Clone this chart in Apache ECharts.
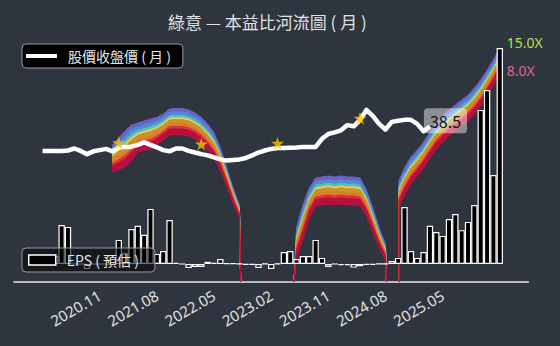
<!DOCTYPE html>
<html>
<head>
<meta charset="utf-8">
<style>html,body{margin:0;padding:0;background:#2f353e;}#c{width:560px;height:346px;}</style>
<script src="https://cdn.jsdelivr.net/npm/echarts@6/dist/echarts.min.js"></script>
</head>
<body>
<div id="c"></div>
<script>
// ---------- data ----------
const months = ['2019.10','2019.11','2019.12',
 '2020.01','2020.02','2020.03','2020.04','2020.05','2020.06','2020.07','2020.08','2020.09','2020.10','2020.11','2020.12',
 '2021.01','2021.02','2021.03','2021.04','2021.05','2021.06','2021.07','2021.08','2021.09','2021.10','2021.11','2021.12',
 '2022.01','2022.02','2022.03','2022.04','2022.05','2022.06','2022.07','2022.08','2022.09','2022.10','2022.11','2022.12',
 '2023.01','2023.02','2023.03','2023.04','2023.05','2023.06','2023.07','2023.08','2023.09','2023.10','2023.11','2023.12',
 '2024.01','2024.02','2024.03','2024.04','2024.05','2024.06','2024.07','2024.08','2024.09','2024.10','2024.11','2024.12',
 '2025.01','2025.02','2025.03','2025.04','2025.05','2025.06','2025.07','2025.08','2025.09','2025.10','2025.11','2025.12',
 '2026.01','2026.02','2026.03','2026.04','2026.05','2026.06'];

const tickMonths = ['2020.02','2020.11','2021.08','2022.05','2023.02','2023.11','2024.08','2025.05','2026.02'];
const labelMonths = ['2020.11','2021.08','2022.05','2023.02','2023.11','2024.08','2025.05'];

const closePrice = [null,null,null,null,
 32.5,32.5,32.5,32.5,32.6,33.1,
 32.5,31.7,32.4,32.7,33.0,32.4,33.35,33.5,33.55,34.0,
 34.6,34.0,33.4,32.7,32.4,33.1,33.1,32.5,32.1,31.7,
 31.4,30.9,30.4,30.1,30.25,30.4,30.75,31.4,32.1,32.6,
 33.0,33.2,33.2,33.3,33.35,33.5,33.5,33.5,35.5,36.7,
 37.1,37.6,38.9,38.6,40.2,42.65,41.2,39.2,37.8,39.7,
 40.0,40.2,40.2,39.2,37.4,38.5,
 null,null,null,null,null,null,null,null,null,null,null,null,null,null,null];

const eps = [null,null,null,null,
 0,0,0.22,1.08,1.03,0,
 0,-0.14,0,0,0,0,0.67,0.3,0.97,1.06,
 0.81,1.53,0.28,0.36,1.22,0.03,0,-0.11,-0.08,-0.08,
 0.06,0.03,0.14,0.02,0.02,0.01,-0.02,-0.02,-0.11,0.01,
 -0.14,0.01,0.33,0.36,0.14,0.22,0.22,0.67,0.17,-0.08,
 0,-0.03,-0.03,-0.1,-0.06,-0.02,-0.02,0.01,0.01,0.08,
 0.17,1.58,0.36,0.17,0.33,1.06,0.89,0.78,1.25,1.39,
 0.94,1.17,1.64,4.28,4.83,2.47,6.0,
 null,null,null,null];

const starMonths = ['2021.02','2022.03','2023.03','2024.04'];
const starPrices = [34.5, 34.2, 34.4, 40.6];

// river: month position (index), 15X boundary and 8X boundary (price)
const riverX = [15,16,17,18,19,20,21,22,23,24,25,26,27,28,29,30,31,32,33,34,35,35.2, null,
 43.6,44,45,46,47,48,49,50,51,52,53,54,55,56,57,58,58.15, null,
 60.15,60.15,61,62,63,64,65,66,67,68,69,70,71,72,73,74,75,76];
const riverHigh = [33.97,35.70,37.44,38.93,39.42,39.92,40.42,40.79,41.66,42.90,43.02,43.02,42.65,41.90,40.79,39.18,36.95,33.23,28.27,23.31,19.09,0, null,
 0,13.39,19.09,23.31,25.79,26.04,26.28,26.04,26.28,26.04,26.04,25.79,22.81,18.35,13.39,9.42,0, null,
 0,25.29,28.27,30.99,32.73,34.71,37.19,39.42,41.16,42.65,43.89,45.13,46.37,48.10,50.09,52.57,55.05,58.02];
const riverLow = [27.27,27.77,28.51,30.0,32.23,32.61,32.98,33.97,35.21,36.45,36.45,36.45,36.20,35.46,34.34,32.73,30.75,27.77,23.80,19.59,15.87,0, null,
 0,6.20,10.41,15.87,18.84,19.09,19.34,19.09,19.34,19.09,19.09,18.84,16.37,12.40,8.68,5.45,0, null,
 0,18.60,21.57,24.30,26.28,28.27,30.75,32.98,34.71,36.20,37.44,38.68,39.92,41.66,43.64,46.12,48.85,51.82];
const riverLabels = ['15.0X','8.0X'];

// ---------- style ----------
const FONT_CJK = "'Noto Sans CJK TC','Noto Sans',sans-serif";
const FONT_LAT = "'Noto Sans','Noto Sans CJK TC',sans-serif";
// bands bottom -> top: relative thickness and colour
const bandWeights = [7,3,3,5,2,3,4,4];
const bandColors = ['#b8103c','#d8343a','#e5782a','#c8922e','#f0d25a','#52c2bc','#5487d6','#6a63c4'];

const totalW = bandWeights.reduce((a,b)=>a+b,0);
const cum = [0];
bandWeights.forEach(w => cum.push(cum[cum.length-1] + w/totalW));

function riverSegments(){
  const segs=[]; let cur=[];
  for(let j=0;j<riverX.length;j++){
    if(riverX[j]===null){ if(cur.length) segs.push(cur); cur=[]; }
    else cur.push({x:riverX[j], hi:riverHigh[j], lo:riverLow[j]});
  }
  if(cur.length) segs.push(cur);
  return segs;
}
const segs = riverSegments();

function renderRiver(params, api){
  const children=[];
  segs.forEach(seg=>{
    const bounds = cum.map(c => seg.map(p => api.coord([p.x, p.lo + (p.hi-p.lo)*c])));
    for(let k=bandColors.length-1;k>=0;k--){
      const pts = bounds[k+1].concat(bounds[k].slice().reverse());
      children.push({type:'polygon', shape:{points:pts},
        style:{fill:bandColors[k], stroke:bandColors[k], lineWidth:1}});
    }
  });
  const lastSeg = segs[segs.length-1];
  const last = lastSeg[lastSeg.length-1];
  const pHi = api.coord([last.x, last.hi]);
  const pLo = api.coord([last.x, last.lo]);
  children.push({type:'text', style:{text:riverLabels[0], x:pHi[0]+7, y:pHi[1]-5,
    fill:'#b3e04a', font:'14px '+FONT_LAT, textAlign:'left', textVerticalAlign:'middle', verticalAlign:'middle'}});
  children.push({type:'text', style:{text:riverLabels[1], x:pLo[0]+7, y:pLo[1]-2,
    fill:'#e4609a', font:'14px '+FONT_LAT, textAlign:'left', textVerticalAlign:'middle', verticalAlign:'middle'}});
  return {type:'group', children};
}

const tickSet = new Set(tickMonths);
const labelSet = new Set(labelMonths);

const chart = echarts.init(document.getElementById('c'), null, {renderer:'svg'});
chart.setOption({
  animation:false,
  backgroundColor:'#2f353e',
  title:{text:'綠意 — 本益比河流圖 ( 月 )', left:168, top:13, padding:0,
    textStyle:{color:'#e2e2e2', fontSize:17, fontWeight:'normal', fontFamily:FONT_CJK}},
  legend:[
    {data:[{name:'股價收盤價 ( 月 )', icon:'rect', itemStyle:{color:'#ffffff', borderWidth:0}}],
     left:22, top:44, selectedMode:false, itemWidth:31, itemHeight:4, z:10,
     backgroundColor:'#000', borderColor:'#9a9a9a', borderWidth:1, borderRadius:4,
     padding:[5,12,5,4],
     textStyle:{color:'#e6e6e6', fontSize:14, fontFamily:FONT_CJK, padding:[0,0,0,6]}},
    {data:[{name:'EPS ( 預估 )', icon:'rect', itemStyle:{color:'#000', borderColor:'#fff', borderWidth:1.5}}],
     left:22, top:248, selectedMode:false, itemWidth:27, itemHeight:10, z:10,
     backgroundColor:'rgba(0,0,0,0.55)', borderColor:'#9a9a9a', borderWidth:1, borderRadius:4,
     padding:[5,16,5,6],
     textStyle:{color:'#e6e6e6', fontSize:14, fontFamily:FONT_CJK, padding:[0,0,0,6]}}
  ],
  grid:{left:14, right:31.65, top:40, bottom:64, containLabel:false},
  xAxis:[
    {type:'category', data:months, boundaryGap:true,
     axisLine:{lineStyle:{color:'#e8e8e8', width:1.5}},
     axisTick:{alignWithLabel:true, length:5, interval:(i,v)=>tickSet.has(v), lineStyle:{color:'#e8e8e8', width:1.5}},
     axisLabel:{rotate:30, interval:(i,v)=>labelSet.has(v), color:'#e0e0e0', fontSize:15, fontFamily:FONT_LAT, margin:12},
     splitLine:{show:false}},
    {type:'value', min:-0.5, max:80.5, show:false}
  ],
  yAxis:[
    {type:'value', min:0, max:60, show:false},
    {type:'value', min:-0.5, max:6.2222, show:false}
  ],
  series:[
    {type:'custom', name:'river', xAxisIndex:1, yAxisIndex:0, data:[[0,0]], renderItem:renderRiver, silent:true, z:1},
    {type:'bar', name:'EPS ( 預估 )', xAxisIndex:0, yAxisIndex:1, data:eps, barCategoryGap:'0%',
     itemStyle:{color:'#000', borderColor:'#fff', borderWidth:1.2}, z:2},
    {type:'line', name:'股價收盤價 ( 月 )', xAxisIndex:0, yAxisIndex:0, data:closePrice, showSymbol:false,
     itemStyle:{color:'#fff'}, lineStyle:{color:'#fff', width:4.5, join:'round'}, z:3,
     endLabel:{show:true, formatter:p=>String(p.value), color:'#111', fontSize:16, fontFamily:FONT_CJK,
       backgroundColor:'rgba(255,255,255,0.45)', padding:[5,6,4,6], borderRadius:4, distance:0, offset:[-6,-6]}},
    {type:'scatter', name:'star', xAxisIndex:0, yAxisIndex:0,
     data:starMonths.map((m,i)=>[m, starPrices[i]]),
     symbol:'path://M50,0 L61,35 L98,35 L68,57 L79,91 L50,70 L21,91 L32,57 L2,35 L39,35 Z',
     symbolSize:13, itemStyle:{color:'#f5c400'}, z:4, silent:true}
  ]
});
</script>
</body>
</html>
